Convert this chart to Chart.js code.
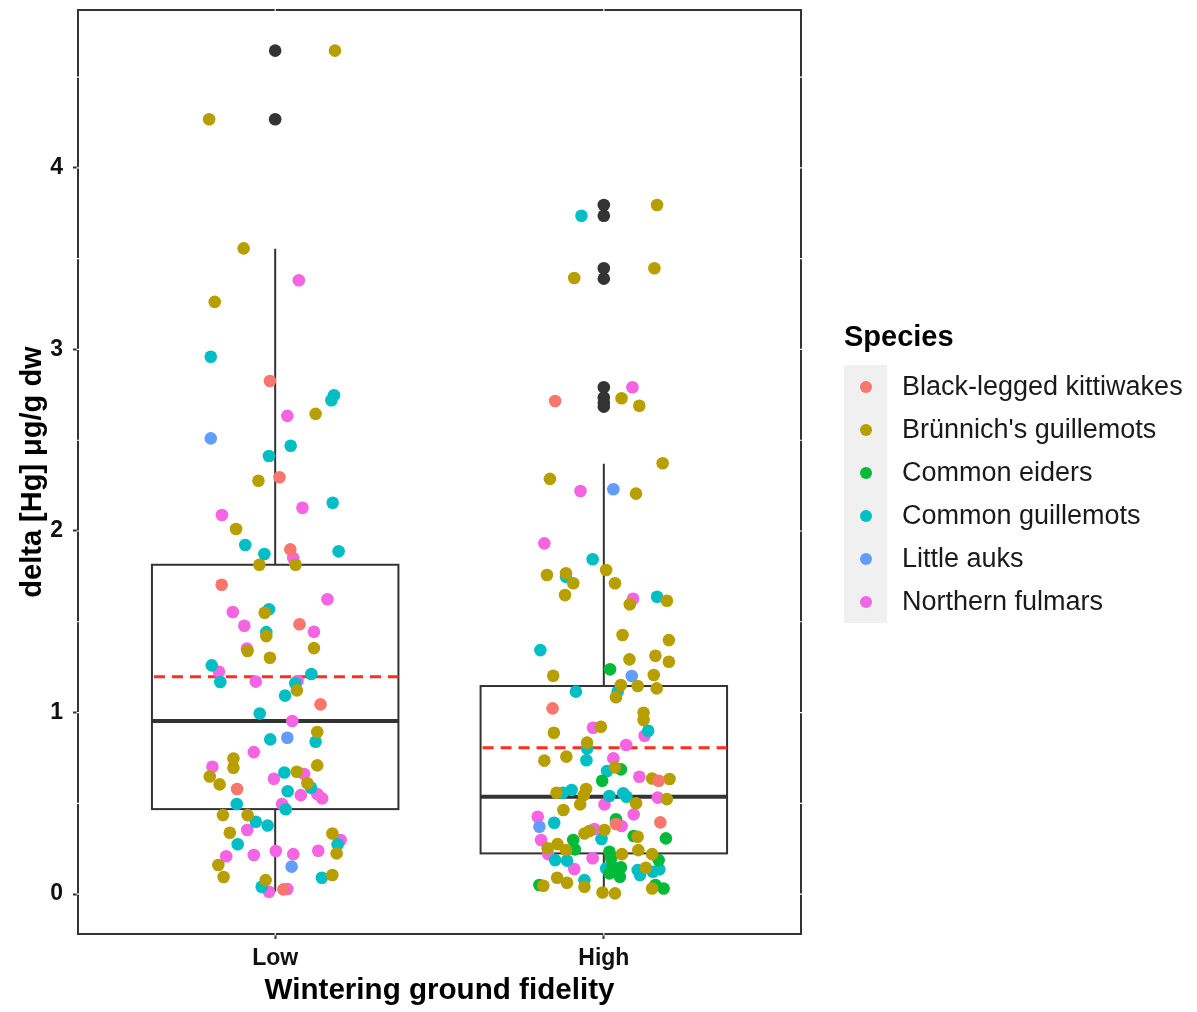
<!DOCTYPE html>
<html>
<head>
<meta charset="utf-8">
<script src="https://cdn.jsdelivr.net/npm/chart.js@4.4.1/dist/chart.umd.min.js"></script>
<style>
  body { margin: 0; background: #fff; font-family: "Liberation Sans", Arial, sans-serif; }
  #wrap { position: relative; width: 1197px; height: 1012px; }
  #legend { position: absolute; left: 844px; top: 322px; }
  #legend .title { font-weight: bold; font-size: 29px; line-height: 29px; height: 43px; color: #000; }
  #legend .row { display: flex; align-items: center; height: 43px; }
  #legend .key { width: 43px; height: 43px; background: #f0f0f0; display: flex; align-items: center; justify-content: center; }
  #legend .dot { width: 12px; height: 12px; border-radius: 50%; }
  #legend .lab { margin-left: 15px; font-size: 27px; color: #1a1a1a; white-space: nowrap; }
</style>
</head>
<body>
<div id="wrap">
  <canvas id="chart" width="1197" height="1012"></canvas>
  <div id="legend"></div>
</div>
<script>
// groups on the x axis
const categories = ["Low", "High"];
const yTicks = [0, 1, 2, 3, 4];

const speciesNames = ["Black-legged kittiwakes", "Brünnich's guillemots", "Common eiders",
  "Common guillemots", "Little auks", "Northern fulmars"];
const speciesColors = ["#F8766D", "#B79F00", "#00BA38", "#00BFC4", "#619CFF", "#F564E3"];

// jittered points: [group position + jitter, delta Hg]
const kittiwakes = [[0.984,2.826],[1.013,2.296],[1.046,1.899],[0.837,1.704],[1.074,1.486],[1.138,1.045],[0.884,0.579],[1.025,0.026],
  [1.852,2.716],[1.844,1.023],[2.167,0.624],[2.037,0.386],[2.172,0.395]];
const brunnich = [[1.182,4.646],[0.799,4.268],[0.904,3.557],[0.816,3.262],[1.123,2.645],[0.949,2.277],[0.881,2.011],[0.952,1.814],[1.062,1.814],
  [0.968,1.550],[0.973,1.421],[1.118,1.355],[0.916,1.339],[0.984,1.302],[1.066,1.122],[1.128,0.893],[0.873,0.747],[0.873,0.696],[1.128,0.709],
  [0.801,0.648],[0.831,0.604],[1.066,0.674],[1.098,0.610],[0.841,0.435],[0.916,0.435],[0.862,0.338],[1.174,0.334],[1.187,0.224],[0.827,0.160],
  [0.843,0.094],[0.971,0.077],[1.174,0.105],
  [2.162,3.796],[1.910,3.394],[2.154,3.447],[2.054,2.731],[2.108,2.690],[2.179,2.373],[1.836,2.287],[2.098,2.206],[2.007,1.785],[1.827,1.758],
  [1.885,1.767],[1.907,1.712],[2.034,1.712],[1.882,1.647],[2.079,1.596],[2.192,1.616],[2.057,1.427],[2.198,1.399],[2.078,1.293],[2.157,1.313],
  [2.198,1.280],[1.846,1.203],[2.152,1.207],[2.052,1.152],[2.103,1.146],[2.161,1.133],[2.037,1.084],[2.121,0.999],[2.121,0.959],[1.848,0.889],
  [1.991,0.922],[1.949,0.834],[1.819,0.735],[1.886,0.757],[2.034,0.698],[2.147,0.637],[2.200,0.634],[1.856,0.558],[1.946,0.579],[1.939,0.545],
  [1.928,0.494],[2.098,0.500],[2.192,0.523],[1.877,0.463],[1.941,0.334],[1.956,0.347],[2.002,0.353],[2.103,0.316],[1.859,0.275],[1.885,0.242],
  [1.829,0.252],[2.055,0.220],[2.105,0.242],[2.147,0.220],[2.128,0.145],[1.858,0.090],[1.888,0.062],[1.816,0.046],[1.941,0.040],[1.996,0.009],
  [2.034,0.004],[2.147,0.031]];
const eiders = [[2.019,1.238],[2.052,0.687],[1.995,0.624],[2.037,0.412],[2.091,0.320],[2.189,0.307],[1.907,0.298],[1.912,0.246],[2.017,0.233],
  [2.022,0.197],[2.167,0.187],[2.027,0.151],[2.052,0.147],[2.017,0.114],[2.049,0.095],[1.804,0.050],[2.157,0.050],[2.182,0.031]];
const commonGuillemots = [[0.804,2.960],[1.179,2.748],[1.171,2.720],[1.047,2.470],[0.981,2.413],[1.175,2.156],[0.909,1.923],[0.967,1.873],[1.193,1.888],
  [0.981,1.569],[0.973,1.443],[0.807,1.260],[0.833,1.168],[1.110,1.212],[1.061,1.161],[1.030,1.093],[0.953,0.995],[1.123,0.839],[0.985,0.852],
  [1.028,0.670],[1.109,0.586],[1.038,0.566],[0.883,0.496],[1.032,0.467],[0.941,0.398],[0.977,0.378],[0.886,0.274],[1.190,0.274],[0.959,0.040],
  [1.142,0.090],
  [1.932,3.737],[1.966,1.844],[1.885,1.748],[2.162,1.638],[1.807,1.344],[1.915,1.115],[2.042,1.115],[2.135,0.900],[1.949,0.801],[1.947,0.737],
  [2.010,0.678],[1.875,0.558],[1.902,0.573],[2.017,0.540],[2.059,0.555],[2.069,0.536],[1.849,0.393],[1.993,0.303],[1.852,0.187],[1.888,0.184],
  [2.007,0.141],[2.103,0.132],[2.110,0.105],[2.149,0.123],[2.169,0.136],[1.941,0.077]];
const littleAuks = [[0.804,2.510],[1.037,0.861],[1.050,0.151],[2.029,2.230],[2.085,1.201],[1.804,0.371]];
const fulmars = [[1.072,3.381],[1.037,2.634],[1.083,2.128],[0.838,2.088],[1.055,1.851],[1.159,1.624],[0.871,1.554],[0.906,1.478],[1.118,1.445],
  [0.914,1.352],[0.829,1.225],[0.941,1.170],[1.068,1.174],[1.052,0.953],[0.935,0.782],[0.809,0.701],[0.996,0.635],[1.088,0.661],[1.078,0.545],
  [1.128,0.551],[1.143,0.527],[1.021,0.496],[0.915,0.353],[1.199,0.298],[1.131,0.239],[0.851,0.208],[0.935,0.215],[1.002,0.237],[1.055,0.220],
  [0.981,0.013],[1.037,0.028],
  [2.087,2.792],[1.929,2.220],[1.819,1.932],[2.089,1.627],[2.124,0.872],[1.967,0.916],[2.068,0.821],[2.029,0.748],[2.108,0.646],[2.002,0.494],
  [2.164,0.531],[1.799,0.426],[2.091,0.439],[2.054,0.375],[1.971,0.358],[1.809,0.298],[1.831,0.220],[1.966,0.197],[1.910,0.138]];

// boxplot outliers (drawn by the box layer)
const outliers = [[1,4.646],[1,4.268],[2,3.796],[2,3.737],[2,3.447],[2,3.390],[2,2.792],[2,2.735],[2,2.707],[2,2.685]];

// box statistics per group
const whiskerLow = [0.013, 0.004];
const q1 = [0.468, 0.224];
const median = [0.953, 0.536];
const q3 = [1.814, 1.146];
const whiskerHigh = [3.555, 2.37];
const means = [1.197, 0.806];

const speciesPoints = [kittiwakes, brunnich, eiders, commonGuillemots, littleAuks, fulmars];
const gridValues = [0, 0.5, 1, 1.5, 2, 2.5, 3, 3.5, 4, 4.5];

const FONT = '"Liberation Sans", Arial, sans-serif';

const boxLayer = {
  id: 'boxLayer',
  beforeDatasetsDraw(chart) {
    const { ctx, chartArea: a, scales: { x, y } } = chart;
    ctx.save();
    // panel border
    ctx.strokeStyle = '#333';
    ctx.lineWidth = 2;
    ctx.strokeRect(a.left, a.top, a.right - a.left, a.bottom - a.top);
    // white grid lines, they only show where they cross the border
    ctx.strokeStyle = '#fff';
    ctx.lineWidth = 1.2;
    gridValues.forEach(v => {
      const py = y.getPixelForValue(v);
      ctx.beginPath(); ctx.moveTo(a.left - 1.5, py); ctx.lineTo(a.right + 1.5, py); ctx.stroke();
    });
    categories.forEach((c, i) => {
      const px = x.getPixelForValue(i + 1);
      ctx.beginPath(); ctx.moveTo(px, a.top - 1.5); ctx.lineTo(px, a.bottom + 1.5); ctx.stroke();
    });

    categories.forEach((c, i) => {
      const cx = x.getPixelForValue(i + 1);
      const l = x.getPixelForValue(i + 1 - 0.375);
      const r = x.getPixelForValue(i + 1 + 0.375);
      const yq1 = y.getPixelForValue(q1[i]);
      const yq3 = y.getPixelForValue(q3[i]);
      ctx.strokeStyle = '#333';
      ctx.lineWidth = 2;
      // whiskers
      ctx.beginPath();
      ctx.moveTo(cx, yq3); ctx.lineTo(cx, y.getPixelForValue(whiskerHigh[i]));
      ctx.moveTo(cx, yq1); ctx.lineTo(cx, y.getPixelForValue(whiskerLow[i]));
      ctx.stroke();
      // box
      ctx.fillStyle = '#fff';
      ctx.fillRect(l, yq3, r - l, yq1 - yq3);
      ctx.strokeRect(l, yq3, r - l, yq1 - yq3);
      // median
      ctx.lineWidth = 4;
      const ym = y.getPixelForValue(median[i]);
      ctx.beginPath(); ctx.moveTo(l, ym); ctx.lineTo(r, ym); ctx.stroke();
      // mean
      ctx.strokeStyle = '#ff2e1f';
      ctx.lineWidth = 3;
      ctx.setLineDash([11, 7]);
      const ya = y.getPixelForValue(means[i]);
      ctx.beginPath(); ctx.moveTo(l + 2, ya); ctx.lineTo(r, ya); ctx.stroke();
      ctx.setLineDash([]);
    });
    ctx.restore();
  }
};

const datasets = speciesNames.map((name, i) => ({
  label: name,
  data: speciesPoints[i].map(p => ({ x: p[0], y: p[1] })),
  backgroundColor: speciesColors[i],
  borderWidth: 0,
  pointRadius: 6.3,
  order: 1
}));
datasets.push({
  label: 'outliers',
  data: outliers.map(p => ({ x: p[0], y: p[1] })),
  backgroundColor: '#333333',
  borderWidth: 0,
  pointRadius: 6.3,
  order: 2
});

new Chart(document.getElementById('chart'), {
  type: 'scatter',
  data: { datasets },
  options: {
    responsive: false,
    animation: false,
    layout: { padding: { top: 10, right: 396, left: 0, bottom: 0 } },
    plugins: { legend: { display: false }, tooltip: { enabled: false } },
    scales: {
      x: {
        type: 'linear',
        min: 0.4,
        max: 2.6,
        afterBuildTicks: s => { s.ticks = categories.map((c, i) => ({ value: i + 1 })); },
        afterFit: s => { s.height = 78; s.paddingLeft = 0; s.paddingRight = 0; },
        ticks: {
          callback: v => categories[v - 1],
          color: '#111',
          font: { family: FONT, size: 23, weight: 'bold' },
          padding: 6,
          maxRotation: 0
        },
        grid: { drawOnChartArea: false, tickLength: 5, tickColor: '#333', tickWidth: 2 },
        border: { display: false },
        title: {
          display: true,
          text: 'Wintering ground fidelity',
          color: '#000',
          font: { family: FONT, size: 29.6, weight: 'bold' },
          padding: { top: 0, bottom: 3.5 }
        }
      },
      y: {
        min: -0.22,
        max: 4.87,
        afterBuildTicks: s => { s.ticks = yTicks.map(v => ({ value: v })); },
        afterFit: s => { s.width = 78; s.paddingTop = 0; s.paddingBottom = 0; },
        ticks: {
          color: '#111',
          font: { family: FONT, size: 23, weight: 'bold' },
          padding: 10
        },
        grid: { drawOnChartArea: false, tickLength: 5, tickColor: '#333', tickWidth: 2 },
        border: { display: false },
        title: {
          display: true,
          text: 'delta [Hg] μg/g dw',
          color: '#000',
          font: { family: FONT, size: 29, weight: 'bold' },
          padding: { top: 16, bottom: 0 }
        }
      }
    }
  },
  plugins: [boxLayer]
});

// legend
const legend = document.getElementById('legend');
let html = '<div class="title">Species</div>';
speciesNames.forEach((name, i) => {
  html += '<div class="row"><div class="key"><div class="dot" style="background:' + speciesColors[i] +
    '"></div></div><div class="lab">' + name + '</div></div>';
});
legend.innerHTML = html;
</script>
</body>
</html>
